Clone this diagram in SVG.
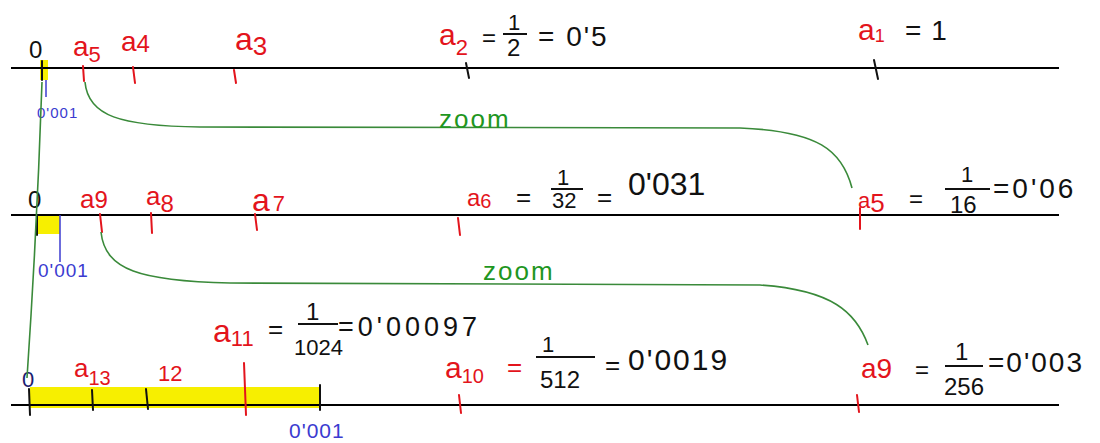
<svg xmlns="http://www.w3.org/2000/svg" width="1100" height="443" viewBox="0 0 1100 443">
<style>
text{font-family:"Liberation Sans","DejaVu Sans",sans-serif}
.k{fill:#111}
.r{fill:#e3141c}
.b{fill:#3b3bd0}
.n{fill:#1c1c70}
.g{fill:#1f961f}
.axis{stroke:#000;stroke-width:2.2}
.tk{stroke:#111;stroke-width:2;stroke-linecap:round}
.tr{stroke:#e3141c;stroke-width:2;stroke-linecap:round}
.bl{stroke:#3b3bd0;stroke-width:1.5}
.frac{stroke:#111;stroke-width:2}
.hl{fill:#f7ef00}
.conn{fill:none;stroke:#3a8a3a;stroke-width:1.6}
</style>
<rect width="1100" height="443" fill="#fff"/>

<g id="axis1">
  <rect class="hl" x="40" y="60" width="8" height="20"/>
  <line class="axis" x1="11" y1="68" x2="1059" y2="68"/>
  <line class="tk" x1="42" y1="61" x2="42" y2="80" stroke-width="3"/>
  <line class="bl" x1="46" y1="80" x2="46" y2="97"/>
  <text class="b" x="37" y="118" font-size="15" letter-spacing="1">0'001</text>
  <line class="tr" x1="83" y1="66" x2="84" y2="81"/>
  <line class="tr" x1="133" y1="67" x2="135" y2="83"/>
  <line class="tr" x1="234" y1="70" x2="236" y2="83"/>
  <line class="tk" x1="466" y1="63" x2="469" y2="78"/>
  <line class="tk" x1="874" y1="60" x2="878" y2="79"/>
  <text class="k" x="29" y="58" font-size="24">0</text>
  <text class="r" x="73" y="56" font-size="28">a<tspan font-size="22" dy="6">5</tspan></text>
  <text class="r" x="121" y="51" font-size="28">a<tspan font-size="24" dy="1">4</tspan></text>
  <text class="r" x="235" y="50" font-size="32">a<tspan font-size="26" dy="5">3</tspan></text>
  <text class="r" x="439" y="45" font-size="30">a<tspan font-size="22" dy="10">2</tspan></text>
  <text class="k" x="482" y="46" font-size="24">=</text>
  <text class="k" x="508" y="30" font-size="22">1</text>
  <line class="frac" x1="503" y1="34" x2="527" y2="34"/>
  <text class="k" x="507" y="56" font-size="24">2</text>
  <text class="k" x="538" y="46" font-size="28" letter-spacing="2">= 0'5</text>
  <text class="r" x="858" y="40" font-size="30">a<tspan font-size="18" dy="2">1</tspan></text>
  <text class="k" x="905" y="40" font-size="28" letter-spacing="1">= 1</text>
</g>

<g id="axis2">
  <rect class="hl" x="38" y="215" width="22" height="19"/>
  <line class="axis" x1="11" y1="215" x2="1059" y2="215"/>
  <line class="tk" x1="37" y1="215" x2="37" y2="235" stroke-width="3"/>
  <line class="bl" x1="60" y1="215" x2="60" y2="262"/>
  <text class="b" x="38" y="277" font-size="19" letter-spacing="1">0'001</text>
  <line class="tr" x1="100" y1="214" x2="102" y2="232"/>
  <line class="tr" x1="151" y1="213" x2="152" y2="233"/>
  <line class="tr" x1="255" y1="214" x2="257" y2="230"/>
  <line class="tr" x1="458" y1="218" x2="460" y2="235"/>
  <line class="tr" x1="860" y1="208" x2="860" y2="229"/>
  <text class="k" x="28" y="208" font-size="24">0</text>
  <text class="r" x="80" y="208" font-size="26">a<tspan font-size="24">9</tspan></text>
  <text class="r" x="146" y="205" font-size="26">a<tspan font-size="24" dy="7">8</tspan></text>
  <text class="r" x="252" y="211" font-size="32">a<tspan font-size="22" dx="3">7</tspan></text>
  <text class="r" x="467" y="206" font-size="24">a<tspan font-size="20" dy="2">6</tspan></text>
  <text class="k" x="516" y="206" font-size="26">=</text>
  <text class="k" x="557" y="185" font-size="22">1</text>
  <line class="frac" x1="551" y1="189" x2="583" y2="189"/>
  <text class="k" x="552" y="208" font-size="22">32</text>
  <text class="k" x="597" y="206" font-size="26">=</text>
  <text class="k" x="628" y="195" font-size="32">0'031</text>
  <text class="r" x="858" y="208" font-size="22">a<tspan font-size="26" dy="4">5</tspan></text>
  <text class="k" x="909" y="207" font-size="24">=</text>
  <text class="k" x="961" y="182" font-size="22">1</text>
  <line class="frac" x1="945" y1="189" x2="990" y2="189"/>
  <text class="k" x="950" y="213" font-size="24">16</text>
  <text class="k" x="993" y="198" font-size="28" letter-spacing="3">=0'06</text>
</g>

<g id="axis3">
  <rect class="hl" x="30" y="387" width="290" height="21"/>
  <line class="axis" x1="11" y1="405" x2="1059" y2="405"/>
  <line class="tk" x1="29" y1="389" x2="30" y2="415"/>
  <line class="tk" x1="92" y1="390" x2="93" y2="410"/>
  <line class="tk" x1="146" y1="389" x2="148" y2="409"/>
  <line class="tr" x1="244" y1="363" x2="246" y2="415" stroke-width="4"/>
  <line class="tk" x1="320" y1="385" x2="320" y2="410" stroke-width="1.5"/>
  <line class="tr" x1="459" y1="395" x2="461" y2="413"/>
  <line class="tr" x1="857" y1="395" x2="859" y2="412"/>
  <text class="n" x="22" y="387" font-size="22">0</text>
  <text class="b" x="289" y="438" font-size="21" letter-spacing="1">0'001</text>
  <text class="r" x="74" y="377" font-size="26">a<tspan font-size="20" dy="8">13</tspan></text>
  <text class="r" x="158" y="381" font-size="22">12</text>
  <text class="r" x="213" y="342" font-size="32">a<tspan font-size="22" dy="4">11</tspan></text>
  <text class="k" x="268" y="338" font-size="26">=</text>
  <text class="k" x="306" y="320" font-size="24">1</text>
  <line class="frac" x1="298" y1="324" x2="338" y2="324"/>
  <text class="k" x="294" y="355" font-size="22">1024</text>
  <text class="k" x="338" y="336" font-size="27" letter-spacing="4">=0'00097</text>
  <text class="r" x="445" y="378" font-size="30">a<tspan font-size="20" dy="5">10</tspan></text>
  <text class="r" x="507" y="376" font-size="26">=</text>
  <text class="k" x="542" y="352" font-size="22">1</text>
  <line class="frac" x1="536" y1="357" x2="595" y2="357"/>
  <text class="k" x="540" y="388" font-size="24">512</text>
  <text class="k" x="605" y="374" font-size="26">=</text>
  <text class="k" x="628" y="370" font-size="30" letter-spacing="2">0'0019</text>
  <text class="r" x="861" y="378" font-size="28">a9</text>
  <text class="k" x="915" y="378" font-size="24">=</text>
  <text class="k" x="955" y="360" font-size="24">1</text>
  <line class="frac" x1="945" y1="366" x2="983" y2="366"/>
  <text class="k" x="944" y="395" font-size="24">256</text>
  <text class="k" x="988" y="372" font-size="28" letter-spacing="2">=0'003</text>
</g>

<g id="connectors">
  <path class="conn" d="M42,82 Q37,230 27,378"/>
  <path class="conn" d="M85,82 C88,116 120,126 200,127 L740,128 C818,131 842,150 852,188"/>
  <path class="conn" d="M101,232 C105,270 140,281 230,283 L760,285 C832,290 856,312 868,345"/>
  <text class="g" x="439" y="128" font-size="26" letter-spacing="2">zoom</text>
  <text class="g" x="483" y="280" font-size="26" letter-spacing="2">zoom</text>
</g>
</svg>
